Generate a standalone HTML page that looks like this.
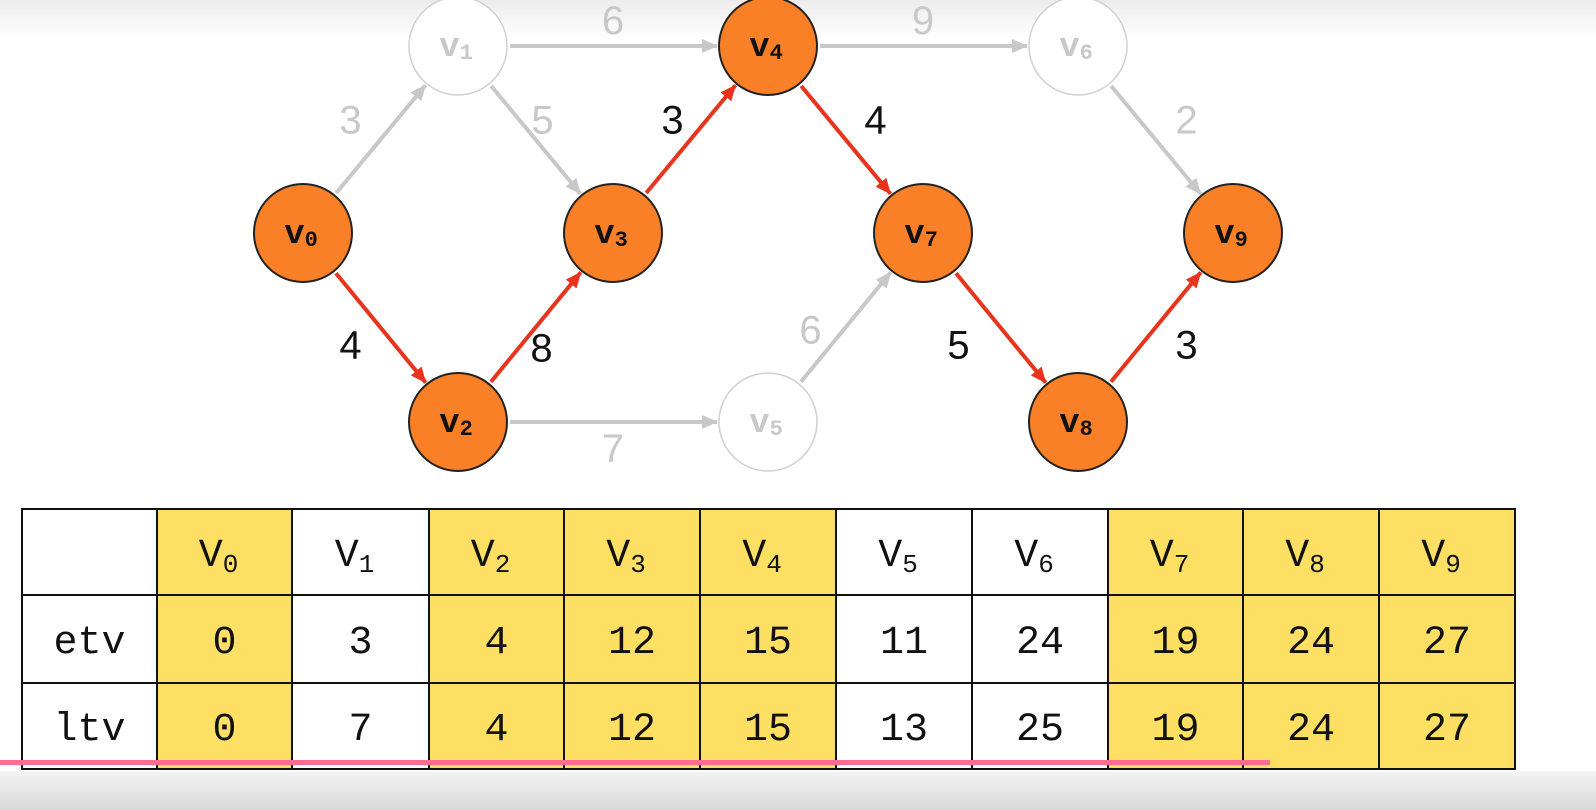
<!DOCTYPE html>
<html><head><meta charset="utf-8">
<style>
html,body{margin:0;padding:0;width:1596px;height:810px;overflow:hidden;background:#fff;}
svg{display:block;}
</style></head>
<body>
<svg id="chart" width="1596" height="810" viewBox="0 0 1596 810" xmlns="http://www.w3.org/2000/svg">
<defs>
<linearGradient id="topg" x1="0" y1="0" x2="0" y2="1"><stop offset="0" stop-color="#ececec"/><stop offset="1" stop-color="#ffffff"/></linearGradient>
<linearGradient id="botg" x1="0" y1="0" x2="0" y2="1"><stop offset="0" stop-color="#f4f4f4"/><stop offset="1" stop-color="#d8d8d8"/></linearGradient>
<marker id="ag" markerWidth="16" markerHeight="14" refX="15" refY="7" orient="auto" markerUnits="userSpaceOnUse" viewBox="0 0 16 14"><path d="M0,0 L16,7 L0,14 z" fill="#c8c8c8"/></marker>
<marker id="ar" markerWidth="16" markerHeight="14" refX="15" refY="7" orient="auto" markerUnits="userSpaceOnUse" viewBox="0 0 16 14"><path d="M0,0 L16,7 L0,14 z" fill="#e8341c"/></marker>
</defs>
<rect x="0" y="0" width="1596" height="40" fill="url(#topg)"/>
<g id="edges"></g>
<g id="nodes"></g>
<g id="table"></g>
<rect x="0" y="771" width="1596" height="39" fill="url(#botg)"/>
<rect x="0" y="760" width="1270" height="5" fill="#ff6b93"/>
</svg>
<script>
const nodeNames = ["V0","V1","V2","V3","V4","V5","V6","V7","V8","V9"];
const nodeX = [303,458,458,613,768,768,1078,923,1078,1233];
const nodeY = [233,46,422,233,46,422,46,233,422,233];
const critical = [1,0,1,1,1,0,0,1,1,1];
const edgeFrom = [0,0,1,1,2,2,3,4,4,5,6,7,8];
const edgeTo   = [1,2,4,3,3,5,4,6,7,7,9,8,9];
const edgeW    = [3,4,6,5,8,7,3,9,4,6,2,5,3];
const edgeCrit = [0,1,0,0,1,0,1,0,1,0,0,1,1];
const labelDX  = [-30,-30,0,7,6,0,-18,0,30,-35,31,-42,31];
const labelDY  = [-20,17,-26,-20,20,26,-20,-26,-20,2,-20,17,17];
const etv = [0,3,4,12,15,11,24,19,24,27];
const ltv = [0,7,4,12,15,13,25,19,24,27];
const NS="http://www.w3.org/2000/svg";
const R=50;
function mk(t,a,p){const e=document.createElementNS(NS,t);for(const k in a)e.setAttribute(k,a[k]);p.appendChild(e);return e;}
const eg=document.getElementById('edges');
for(let i=0;i<edgeFrom.length;i++){
  const a=edgeFrom[i],b=edgeTo[i];
  const x1=nodeX[a],y1=nodeY[a],x2=nodeX[b],y2=nodeY[b];
  const d=Math.hypot(x2-x1,y2-y1),ux=(x2-x1)/d,uy=(y2-y1)/d;
  const c=edgeCrit[i];
  const l=mk('line',{x1:x1+ux*(R+2),y1:y1+uy*(R+2),x2:x2-ux*(R+1),y2:y2-uy*(R+1),stroke:c?'#e8341c':'#c8c8c8','stroke-width':4,'marker-end':c?'url(#ar)':'url(#ag)'},eg);
  
  
  const mx=(x1+x2)/2+labelDX[i],my=(y1+y2)/2+labelDY[i];
  const t=mk('text',{x:mx,y:my+14,'text-anchor':'middle','font-family':'Liberation Sans, sans-serif','font-size':40,fill:c?'#111':'#c8c8c8'},eg);
  t.textContent=edgeW[i];
  
  
}
const ng=document.getElementById('nodes');
for(let i=0;i<nodeNames.length;i++){
  const c=critical[i];
  const g=mk('g',{},ng);
  
  
  mk('circle',{cx:nodeX[i],cy:nodeY[i],r:R-1,fill:c?'#f98026':'#fff',stroke:c?'#222':'#d0d0d0','stroke-width':c?2:1.5},g);
  const t=mk('text',{x:nodeX[i]-2,y:nodeY[i]+10,'text-anchor':'middle','font-family':'Liberation Mono, monospace','font-weight':'bold','font-size':34,fill:c?'#111':'#c8c8c8'},g);
  t.innerHTML='v<tspan font-size="22" dy="3">'+nodeNames[i].slice(1)+'</tspan>';
}
const tg=document.getElementById('table');
const colX=[22,157,292,429,564,700,836,972,1108,1243,1379,1515];
const rowY=[509,595,683,769];
const rowLabels=["","etv","ltv"];
for(let r=0;r<3;r++){
  for(let c=0;c<11;c++){
    const hl=c>0&&critical[c-1];
    const rc=mk('rect',{x:colX[c],y:rowY[r],width:colX[c+1]-colX[c],height:rowY[r+1]-rowY[r],fill:hl?'#fddf64':'#fff',stroke:'#111','stroke-width':2},tg);
    
    
    const cx=(colX[c]+colX[c+1])/2,cy=(rowY[r]+rowY[r+1])/2;
    let txt=null;
    if(c===0){txt=rowLabels[r];}
    else if(r===0){
      const t=mk('text',{x:cx-6,y:cy+14,'text-anchor':'middle','font-family':'Liberation Mono, monospace','font-size':40,fill:'#111'},tg);
      t.innerHTML='V<tspan font-size="26" dy="6">'+(c-1)+'</tspan>';
      
      
      continue;
    } else txt=r===1?etv[c-1]:ltv[c-1];
    if(txt===""||txt===null)continue;
    const t=mk('text',{x:cx,y:cy+14,'text-anchor':'middle','font-family':'Liberation Mono, monospace','font-size':40,fill:'#111'},tg);
    t.textContent=txt;
    
    
  }
}
</script>
</body></html>
